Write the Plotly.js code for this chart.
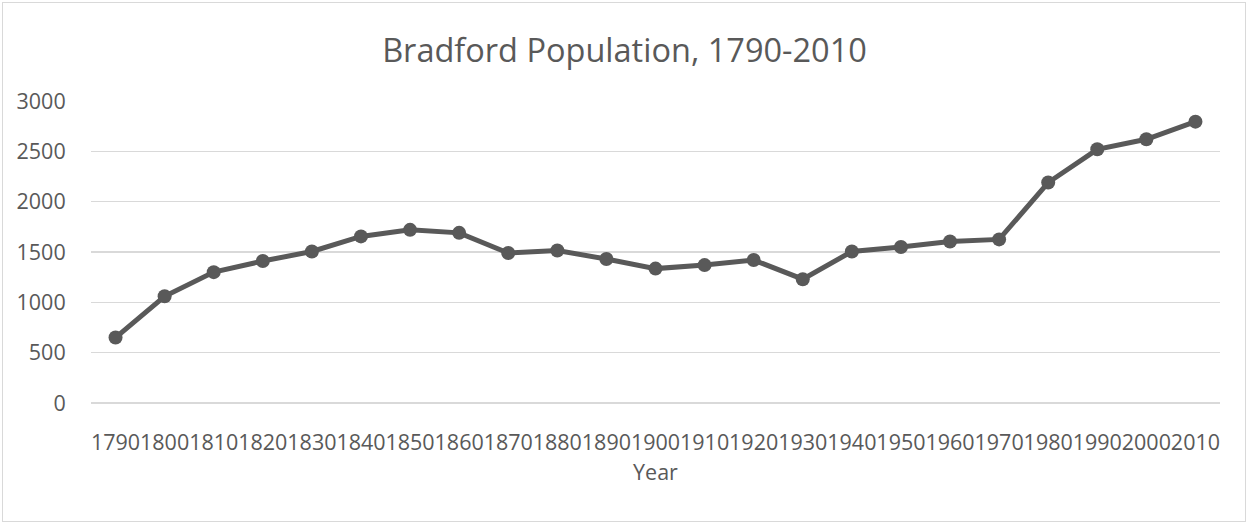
<!DOCTYPE html>
<html>
<head>
<meta charset="utf-8">
<script src="https://cdn.plot.ly/plotly-3.0.1.min.js"></script>
<style>
  html, body { margin: 0; padding: 0; background: #ffffff; }
  #wrap { position: relative; width: 1249px; height: 524px; }
  #chart { position: absolute; left: 0; top: 0; width: 1249px; height: 524px; }
  #frame { position: absolute; left: 2px; top: 2px; width: 1242px; height: 518px; border: 1px solid #d9d9d9; pointer-events: none; }
</style>
</head>
<body>
<div id="wrap">
  <div id="chart"></div>
  <div id="frame"></div>
</div>
<script>
const years = ['1790','1800','1810','1820','1830','1840','1850','1860','1870','1880','1890','1900','1910','1920','1930','1940','1950','1960','1970','1980','1990','2000','2010'];
const population = [650,1060,1300,1410,1505,1655,1720,1690,1490,1515,1430,1335,1370,1420,1230,1505,1550,1605,1625,2190,2520,2620,2795];
const yTickValues = [0,500,1000,1500,2000,2500,3000];
const chartTitle = 'Bradford Population, 1790-2010';
const xTitle = 'Year';

const textColor = '#595959';
const fontFamily = '"Open Sans", "Liberation Sans", sans-serif';

const trace = {
  x: years,
  y: population,
  type: 'scatter',
  mode: 'lines+markers',
  line: { color: '#595959', width: 5 },
  marker: { color: '#595959', size: 14 },
  hoverinfo: 'x+y'
};

const layout = {
  width: 1249,
  height: 524,
  margin: { l: 91, r: 29, t: 101, b: 121 },
  paper_bgcolor: '#ffffff',
  plot_bgcolor: '#ffffff',
  showlegend: false,
  font: { family: fontFamily, color: textColor, size: 21.5 },
  title: {
    text: chartTitle,
    font: { family: fontFamily, color: textColor, size: 32.5 },
    x: 0.5, xref: 'container', xanchor: 'center',
    y: 47, yref: 'container', yanchor: 'middle'
  },
  xaxis: {
    type: 'category',
    range: [-0.5, years.length - 0.5],
    tickangle: 0,
    showgrid: false,
    zeroline: false,
    showline: false,
    ticks: 'outside',
    ticklen: 20,
    tickcolor: 'rgba(0,0,0,0)',
    tickfont: { family: fontFamily, color: textColor, size: 21.5 },
    title: { text: xTitle, font: { family: fontFamily, color: textColor, size: 21.5 }, standoff: 10 }
  },
  yaxis: {
    range: [0, 3000],
    tickvals: yTickValues,
    ticktext: yTickValues.map(String),
    showgrid: true,
    gridcolor: '#d9d9d9',
    gridwidth: 1.3,
    zeroline: true,
    zerolinecolor: '#d9d9d9',
    zerolinewidth: 1.3,
    showline: false,
    ticks: 'outside',
    ticklen: 20,
    tickcolor: 'rgba(0,0,0,0)',
    tickfont: { family: fontFamily, color: textColor, size: 21.5 }
  }
};

Plotly.newPlot('chart', [trace], layout, { displayModeBar: false, staticPlot: true });
</script>
</body>
</html>
